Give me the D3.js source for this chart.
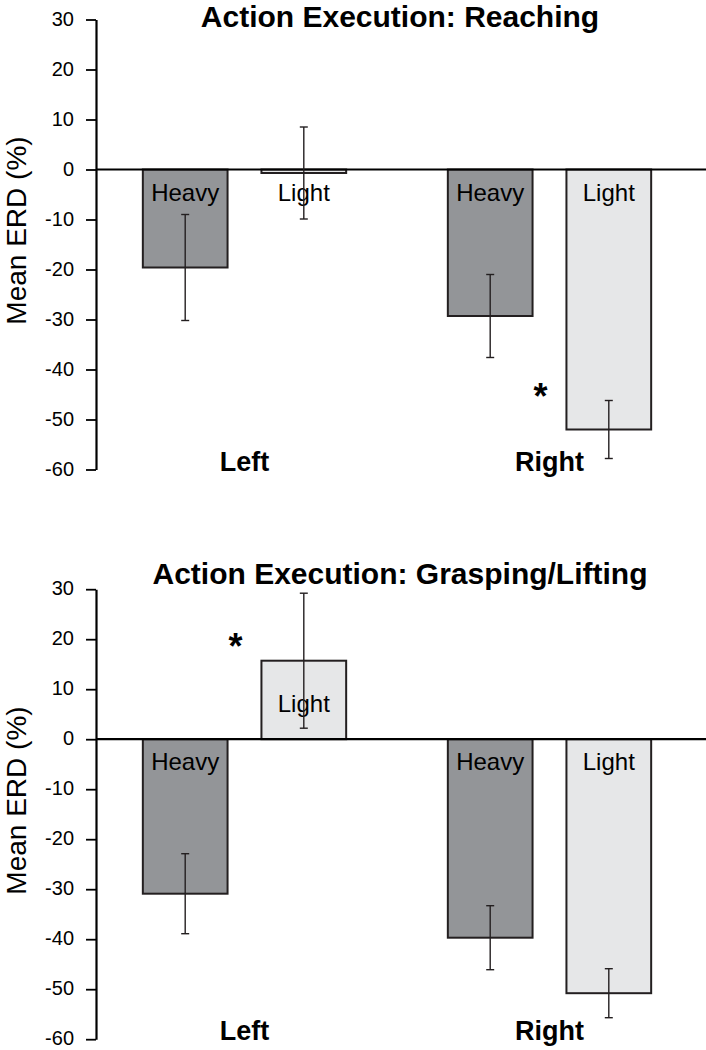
<!DOCTYPE html>
<html>
<head>
<meta charset="utf-8">
<script src="https://cdn.jsdelivr.net/npm/d3@7"></script>
<style>
  html, body { margin: 0; padding: 0; background: #fff; }
  svg { display: block; font-family: "Liberation Sans", Arial, Helvetica, sans-serif; }
</style>
</head>
<body>
<svg id="chart" width="706" height="1050"></svg>
<script>
// ---------- data ----------
const hands = ["Left", "Right"];
const weights = ["Heavy", "Light"];
const panelTitles = ["Action Execution: Reaching", "Action Execution: Grasping/Lifting"];
const yTicks = [30, 20, 10, 0, -10, -20, -30, -40, -50, -60];
const yTickLabels = ["30", "20", "10", "0", "-10", "-20", "-30", "-40", "-50", "-60"];
const yLabel = "Mean ERD (%)";

// Reaching: [Left-Heavy, Left-Light, Right-Heavy, Right-Light]
const reachMeans = [-19.6, -0.7, -29.3, -52.0];
const reachErrs  = [10.6, 9.2, 8.3, 5.8];
// Grasping/Lifting
const graspMeans = [-30.9, 15.7, -39.7, -50.8];
const graspErrs  = [8.0, 13.5, 6.4, 4.9];

// significance markers: [hand, value at star centre]
const reachStar = ["Right", -43.7];
const graspStar = ["Left", 20.3];

// ---------- layout ----------
const svg = d3.select("#chart");
const W = 706;
const axisX = 96;
const fills = { Heavy: "#939598", Light: "#e6e7e8" };
const ink = "#231f20";

const panels = [
  { title: panelTitles[0], means: reachMeans, errs: reachErrs, star: reachStar,
    yTop: 19.5, yBot: 469.5, titleY: 27, labelY: 230.5 },
  { title: panelTitles[1], means: graspMeans, errs: graspErrs, star: graspStar,
    yTop: 589.2, yBot: 1039.2, titleY: 584, labelY: 800.5 }
];

const x0 = d3.scaleBand().domain(hands).range([92, 702]).paddingInner(0).paddingOuter(0);
const x1 = d3.scaleBand().domain(weights).range([0, x0.bandwidth()])
  .paddingInner(0.2857).paddingOuter(0.4286);

panels.forEach(p => {
  const g = svg.append("g");
  const y = d3.scaleLinear().domain([-60, 30]).range([p.yBot, p.yTop]);

  const rows = [];
  hands.forEach((h, i) => weights.forEach((w, j) => {
    const k = i * 2 + j;
    rows.push({ hand: h, weight: w, v: p.means[k], e: p.errs[k] });
  }));

  // title
  g.append("text")
    .attr("x", 400).attr("y", p.titleY)
    .attr("text-anchor", "middle")
    .attr("font-size", 30).attr("font-weight", "bold")
    .attr("fill", "#000")
    .text(p.title);

  // y label
  g.append("text")
    .attr("transform", `translate(26,${p.labelY}) rotate(-90)`)
    .attr("text-anchor", "middle")
    .attr("font-size", 28)
    .attr("fill", "#000")
    .text(yLabel);

  // bars
  g.selectAll("rect.bar").data(rows).join("rect")
    .attr("class", "bar")
    .attr("x", d => x0(d.hand) + x1(d.weight))
    .attr("width", x1.bandwidth())
    .attr("y", d => y(Math.max(0, d.v)))
    .attr("height", d => Math.abs(y(d.v) - y(0)))
    .attr("fill", d => fills[d.weight])
    .attr("stroke", ink).attr("stroke-width", 2);

  // bar labels
  g.selectAll("text.blab").data(rows).join("text")
    .attr("class", "blab")
    .attr("x", d => x0(d.hand) + x1(d.weight) + x1.bandwidth() / 2)
    .attr("y", d => d.v > 0 ? y(0) - 27 : y(0) + 31)
    .attr("text-anchor", "middle")
    .attr("font-size", 24)
    .attr("fill", "#000")
    .text(d => d.weight);

  // axis
  const axis = d3.axisLeft(y).tickValues(yTicks)
    .tickFormat((d, i) => yTickLabels[i])
    .tickSize(10).tickSizeOuter(0).tickPadding(12);
  const ag = g.append("g").attr("transform", `translate(${axisX},0)`).call(axis);
  ag.select(".domain").attr("stroke", "#000").attr("stroke-width", 2.2);
  ag.selectAll(".tick line").attr("stroke", "#000").attr("stroke-width", 1.8);
  ag.selectAll(".tick text").attr("font-size", 20).attr("fill", "#000")
    .attr("dy", "0.28em")
    .attr("font-family", "Liberation Sans, Arial, sans-serif");

  // zero line
  g.append("line")
    .attr("x1", axisX).attr("x2", W)
    .attr("y1", y(0)).attr("y2", y(0))
    .attr("stroke", "#000").attr("stroke-width", 2.2);

  // error bars
  const eg = g.selectAll("g.err").data(rows).join("g").attr("class", "err")
    .attr("transform", d => `translate(${x0(d.hand) + x1(d.weight) + x1.bandwidth() / 2},0)`);
  eg.append("line").attr("x1", 0).attr("x2", 0)
    .attr("y1", d => y(d.v + d.e)).attr("y2", d => y(d.v - d.e))
    .attr("stroke", ink).attr("stroke-width", 1.4);
  eg.append("line").attr("x1", -4).attr("x2", 4)
    .attr("y1", d => y(d.v + d.e)).attr("y2", d => y(d.v + d.e))
    .attr("stroke", ink).attr("stroke-width", 1.4);
  eg.append("line").attr("x1", -4).attr("x2", 4)
    .attr("y1", d => y(d.v - d.e)).attr("y2", d => y(d.v - d.e))
    .attr("stroke", ink).attr("stroke-width", 1.4);

  // hand labels
  g.selectAll("text.hand").data(hands).join("text")
    .attr("class", "hand")
    .attr("x", d => x0(d) + x0.bandwidth() / 2)
    .attr("y", y(-60) + 1)
    .attr("text-anchor", "middle")
    .attr("font-size", 27).attr("font-weight", "bold")
    .attr("fill", "#000")
    .text(d => d);

  // significance star
  g.append("text")
    .attr("x", x0(p.star[0]) + x0.bandwidth() / 2 - 9)
    .attr("y", y(p.star[1]) + 21)
    .attr("text-anchor", "middle")
    .attr("font-size", 36).attr("font-weight", "bold")
    .attr("fill", "#000")
    .text("*");
});
</script>
</body>
</html>
